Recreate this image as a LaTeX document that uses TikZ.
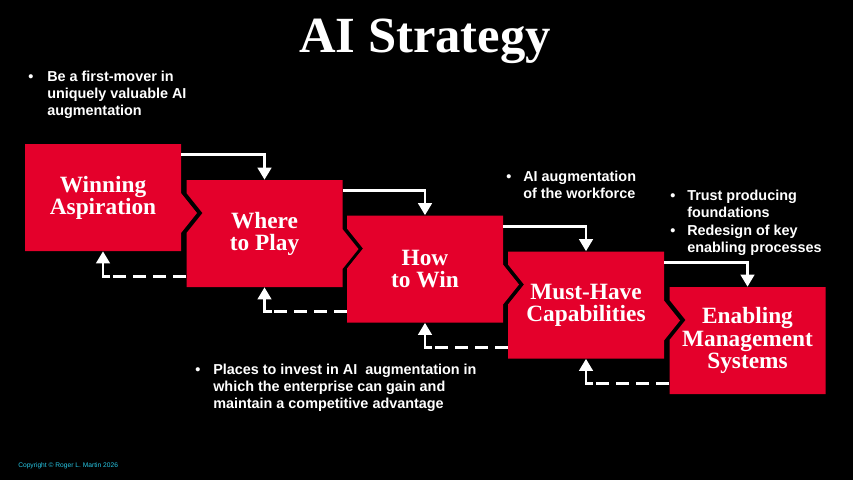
\documentclass[tikz,border=0pt]{standalone}
\usepackage{fontspec}
\setmainfont{Liberation Serif}
\newfontfamily\sansb{Liberation Sans}
\usetikzlibrary{arrows.meta,calc}
\definecolor{boxred}{RGB}{228,0,43}
\definecolor{copycyan}{RGB}{40,200,230}
\pgfdeclarelayer{background}
\pgfsetlayers{background,main}
\tikzset{
 stagebox/.style={rectangle, minimum width=117pt, minimum height=80.25pt, inner sep=0pt, align=center, text=white, font=\bfseries\fontsize{17.5}{16.6}\selectfont},
 bul/.style={anchor=base west, inner sep=0pt, text=white, font=\sansb\bfseries\fontsize{10.8}{13.1}\selectfont},
 flow/.style={draw=white, line width=2.2pt, -{Triangle[width=10pt,length=9pt]}},
 back/.style={draw=white, line width=2.2pt, dash pattern=on 9.75pt off 5.25pt},
 backup/.style={draw=white, line width=2.2pt, -{Triangle[width=10pt,length=9pt]}},
}
\newcommand\blines[2]{\parbox[t]{#1}{\raggedright #2}}
\begin{document}
\begin{tikzpicture}[x=0.75pt,y=-0.75pt]
\useasboundingbox (0,0) rectangle (853,480);

% stage boxes (text nodes; shapes drawn on background layer)
\node[stagebox] (b1) at (103,197.5) {Winning\\Aspiration};
\node[stagebox] (b2) at (264.5,233.5) {Where\\to Play};
\node[stagebox] (b3) at (425,269) {How\\to Win};
\node[stagebox] (b4) at (586,305) {Must-Have\\Capabilities};
\node[stagebox] (b5) at (747.5,340.5) {Enabling\\Management\\Systems};

\begin{pgfonlayer}{background}
\fill[black] (0,0) rectangle (853,480);
\fill[boxred, shift={(b1.center)}] (-78,-53.5) -- (78,-53.5) -- (78,-4.5) -- (94,15.5) -- (78,35.5) -- (78,53.5) -- (-78,53.5) -- cycle;
\fill[boxred, shift={(b2.center)}] (-78,-53.5) -- (78,-53.5) -- (78,-4.5) -- (94,15.5) -- (78,35.5) -- (78,53.5) -- (-78,53.5) -- (-78,-0.5) -- (-62,-20.5) -- (-78,-40.5) -- cycle;
\fill[boxred, shift={(b3.center)}] (-78,-53.5) -- (78,-53.5) -- (78,-4.5) -- (94,15.5) -- (78,35.5) -- (78,53.5) -- (-78,53.5) -- (-78,-0.5) -- (-62,-20.5) -- (-78,-40.5) -- cycle;
\fill[boxred, shift={(b4.center)}] (-78,-53.5) -- (78,-53.5) -- (78,-4.5) -- (94,15.5) -- (78,35.5) -- (78,53.5) -- (-78,53.5) -- (-78,-0.5) -- (-62,-20.5) -- (-78,-40.5) -- cycle;
\fill[boxred, shift={(b5.center)}] (-78,-53.5) -- (78,-53.5) -- (78,53.5) -- (-78,53.5) -- (-78,-0.5) -- (-62,-20.5) -- (-78,-40.5) -- cycle;
\end{pgfonlayer}

% title
\node[anchor=base, inner sep=0pt, text=white, font=\bfseries\fontsize{38}{42}\selectfont] (title) at (425,52) {AI Strategy};

% forward connectors
\draw[flow] ($(b1.north east)+(0,11)$) -| (b2.north);
\draw[flow] ($(b2.north east)+(0,11)$) -| (b3.north);
\draw[flow] ($(b3.north east)+(0,11)$) -| (b4.north);
\draw[flow] ($(b4.north east)+(0,11)$) -| (b5.north);

% feedback connectors
\coordinate (s1) at ($(b2.south west)+(0,-11)$);
\coordinate (c1) at (s1 -| b1.south);
\coordinate (s2) at ($(b3.south west)+(0,-11)$);
\coordinate (c2) at (s2 -| b2.south);
\coordinate (s3) at ($(b4.south west)+(0,-11)$);
\coordinate (c3) at (s3 -| b3.south);
\coordinate (s4) at ($(b5.south west)+(0,-11)$);
\coordinate (c4) at (s4 -| b4.south);
\draw[back] (s1) -- (c1);
\draw[backup] ($(c1)+(7,0)$) -- (c1) -- (b1.south);
\draw[back] (s2) -- (c2);
\draw[backup] ($(c2)+(7,0)$) -- (c2) -- (b2.south);
\draw[back] (s3) -- (c3);
\draw[backup] ($(c3)+(7,0)$) -- (c3) -- (b3.south);
\draw[back] (s4) -- (c4);
\draw[backup] ($(c4)+(7,0)$) -- (c4) -- (b4.south);

% bullet texts
\node[bul] (d1) at (28,81) {•};
\node[bul] (t1) at (47,81) {\blines{200pt}{Be a first-mover in\\uniquely valuable AI\\augmentation}};
\node[bul] (d2) at (506,181) {•};
\node[bul] (t2) at (523,181) {\blines{200pt}{AI augmentation\\of the workforce}};
\node[bul] (d3) at (670,200) {•};
\node[bul] (t3) at (687,200) {\blines{200pt}{Trust producing\\foundations}};
\node[bul] (d4) at (670,235) {•};
\node[bul] (t4) at (687,235) {\blines{200pt}{Redesign of key\\enabling processes}};
\node[bul] (d5) at (195,374) {•};
\node[bul] (t5) at (213,374) {\blines{300pt}{Places to invest in AI~ augmentation in\\which the enterprise can gain and\\maintain a competitive advantage}};

% copyright
\node[anchor=base west, inner sep=0pt, text=copycyan, font=\sansb\fontsize{5}{6}\selectfont] (copy) at (18,467) {Copyright © Roger L. Martin 2026};
\end{tikzpicture}
\end{document}
